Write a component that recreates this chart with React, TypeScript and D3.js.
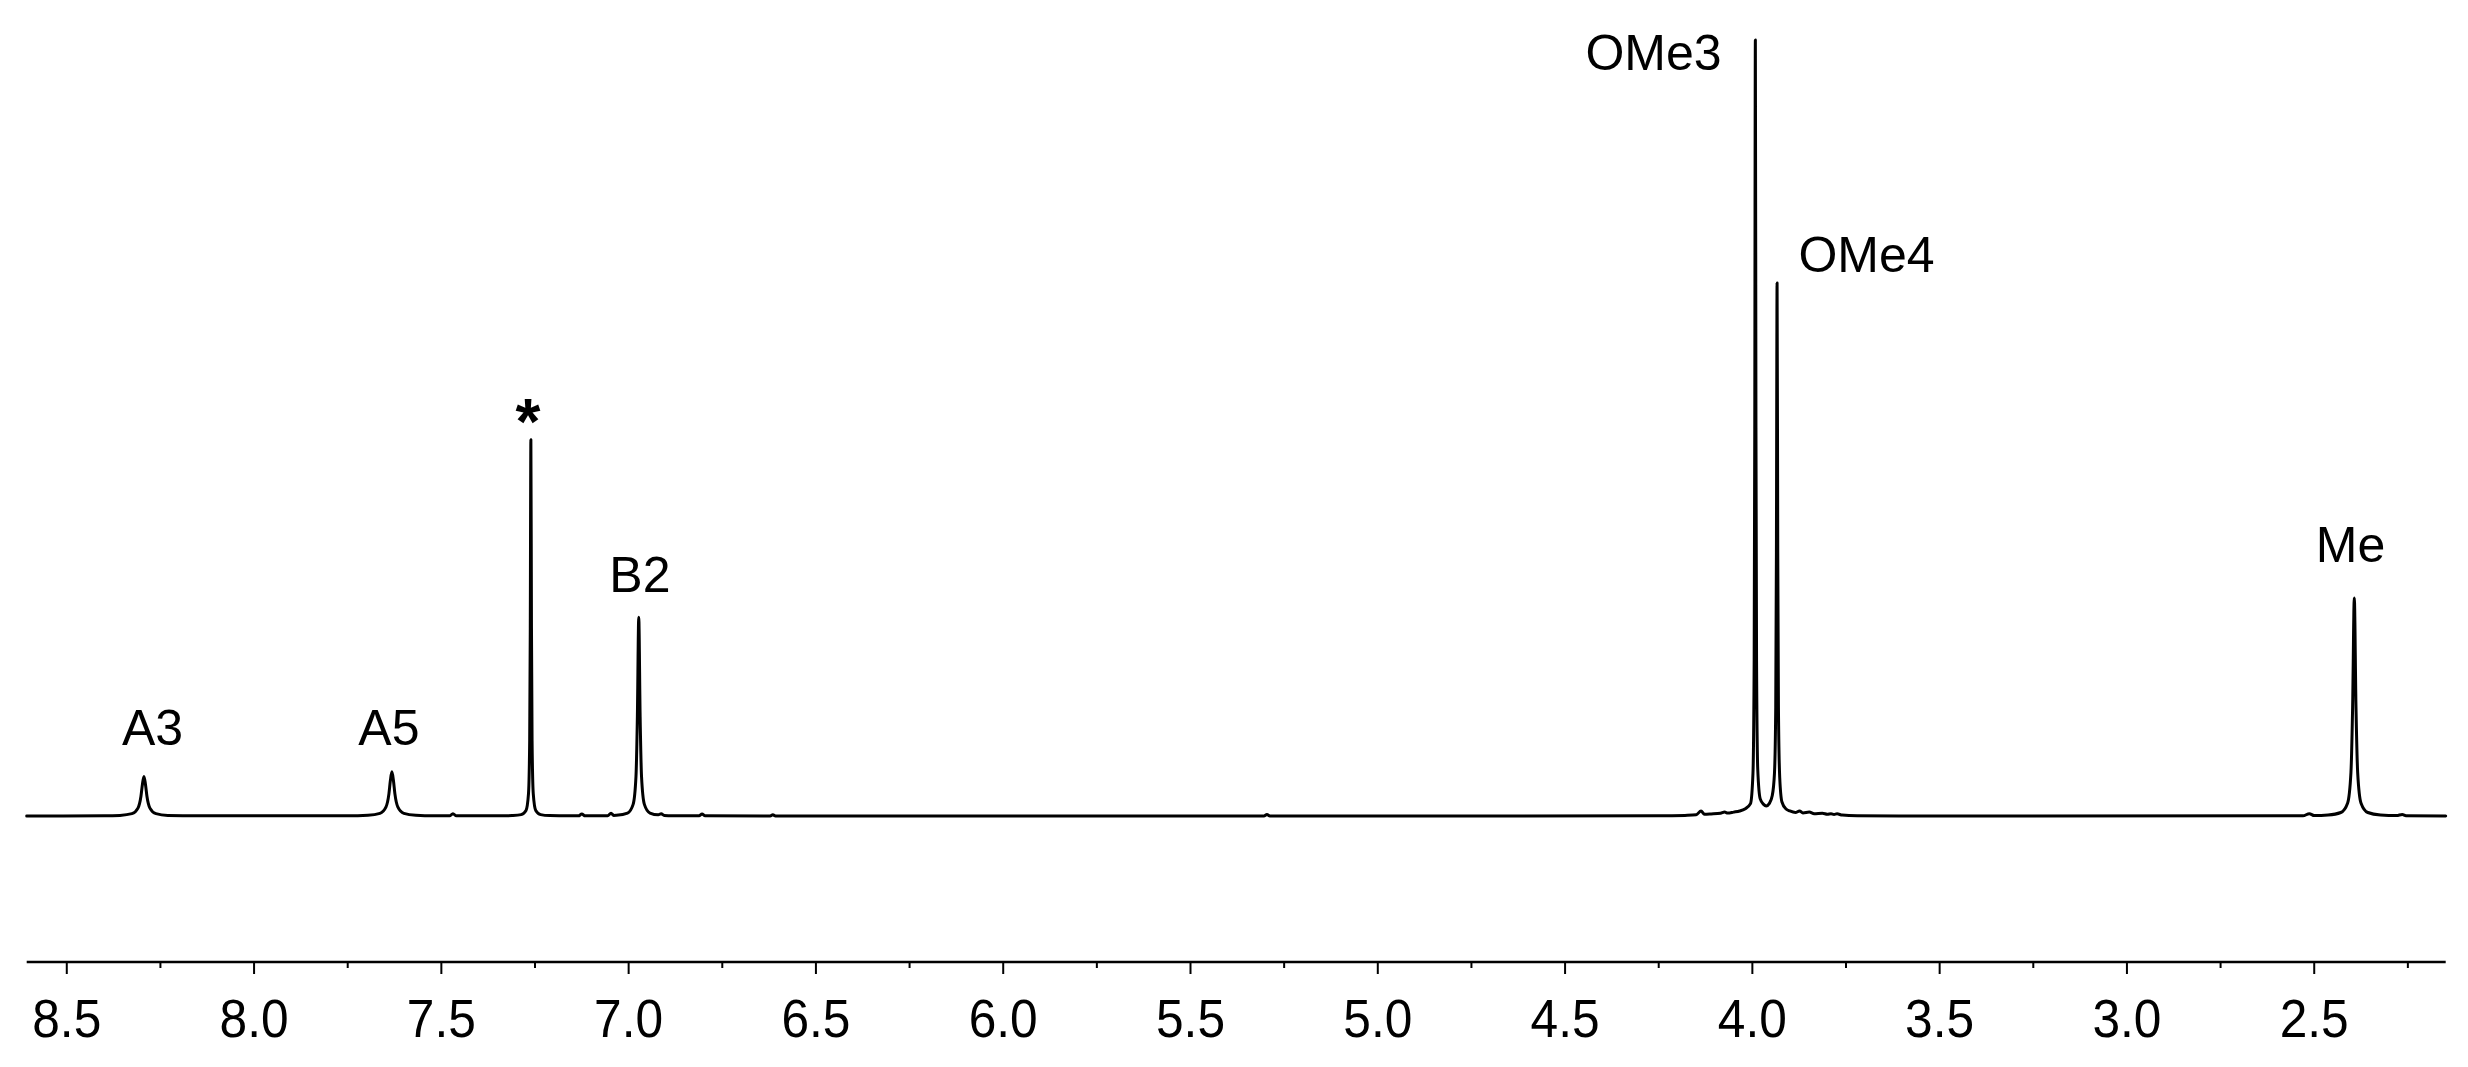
import React, { useMemo } from 'react';
import * as d3 from 'd3';

const WIDTH = 2468;
const HEIGHT = 1067;

// chemical shift window (ppm), drawn left to right
const ppmRange = [8.607, 2.149];
// relative intensity, tallest line (OMe3) = 100
const intensityRange = [0, 100];

const majorTicks = [8.5, 8.0, 7.5, 7.0, 6.5, 6.0, 5.5, 5.0, 4.5, 4.0, 3.5, 3.0, 2.5];
const minorTicks = [8.25, 7.75, 7.25, 6.75, 6.25, 5.75, 5.25, 4.75, 4.25, 3.75, 3.25, 2.75, 2.25];

// peak assignments (text placed in data units)
const peakLabels = ['A3', 'A5', '*', 'B2', 'OMe3', 'OMe4', 'Me'];
const labelPpm = [8.271, 7.64, 7.269, 6.97, 4.082, 3.877, 2.403];
const labelLevel = [9.15, 9.15, 48.0, 28.9, 96.1, 70.1, 32.7];
const labelAnchor = ['middle', 'middle', 'middle', 'middle', 'end', 'start', 'middle'];

// 1H trace: [ppm, relative intensity]
const spectrum: [number, number][] = [
  [8.607, 0], [8.4, 0.02], [8.358, 0.08], [8.326, 0.3], [8.31, 1.02], [8.302, 2.55],
  [8.298, 4.1], [8.294, 5.1], [8.29, 4.1], [8.286, 2.55], [8.278, 1.02], [8.262, 0.3],
  [8.23, 0.08], [8.15, 0.02],
  [7.75, 0.02], [7.696, 0.09], [7.664, 0.34], [7.648, 1.14], [7.64, 2.85], [7.636, 4.6],
  [7.632, 5.7], [7.628, 4.6], [7.624, 2.85], [7.616, 1.14], [7.6, 0.34], [7.568, 0.09],
  [7.52, 0.02], [7.478, 0.02], [7.469, 0.3], [7.46, 0.02],
  [7.33, 0.02], [7.311, 0.05], [7.287, 0.18], [7.274, 0.72], [7.2674, 2.85], [7.2642, 9.7],
  [7.2626, 24.2], [7.261, 48.5], [7.2594, 24.2], [7.2578, 9.7], [7.2546, 2.85], [7.248, 0.72],
  [7.235, 0.18], [7.211, 0.05], [7.16, 0.02],
  [7.134, 0.02], [7.125, 0.25], [7.116, 0.02], [7.056, 0.04], [7.047, 0.35], [7.04, 0.08],
  [7.033, 0.1], [7.003, 0.38], [6.988, 1.5], [6.9804, 5.1], [6.9767, 12.8], [6.973, 25.6],
  [6.9693, 12.8], [6.9656, 5.1], [6.958, 1.5], [6.943, 0.38], [6.921, 0.15], [6.913, 0.3],
  [6.905, 0.08], [6.88, 0.04],
  [6.812, 0.02], [6.804, 0.25], [6.796, 0.02], [6.622, 0.01], [6.615, 0.15], [6.608, 0.01],
  [5.304, 0], [5.296, 0.2], [5.288, 0],
  [4.25, 0.02], [4.18, 0.08], [4.15, 0.15], [4.137, 0.65], [4.128, 0.22], [4.11, 0.26],
  [4.085, 0.35], [4.074, 0.5], [4.066, 0.38], [4.05, 0.5], [4.034, 0.64], [4.02, 0.9],
  [4.005, 1.6], [3.9984, 5.5], [3.9952, 20], [3.9936, 50], [3.992, 100], [3.9904, 50],
  [3.9888, 20], [3.9856, 6], [3.979, 2.2], [3.97, 1.5], [3.963, 1.3], [3.955, 1.6],
  [3.947, 2.6], [3.941, 5.5], [3.9376, 14], [3.9358, 34], [3.934, 68.7], [3.9322, 34],
  [3.9304, 14], [3.927, 5], [3.921, 1.8], [3.91, 0.9], [3.9, 0.65], [3.885, 0.45],
  [3.874, 0.65], [3.865, 0.4], [3.848, 0.5], [3.835, 0.3], [3.813, 0.35], [3.8, 0.22],
  [3.79, 0.3], [3.782, 0.2], [3.774, 0.28], [3.76, 0.12], [3.72, 0.04], [3.6, 0],
  [2.53, 0.02], [2.513, 0.3], [2.5, 0.05], [2.463, 0.12], [2.429, 0.45], [2.411, 1.65],
  [2.402, 5.6], [2.3975, 14], [2.393, 28.1], [2.3885, 14], [2.384, 5.6], [2.375, 1.65],
  [2.357, 0.45], [2.323, 0.12], [2.28, 0.05], [2.265, 0.2], [2.255, 0.03], [2.149, 0],
];

const FONT = '"Liberation Sans", Arial, Helvetica, sans-serif';

export default function App() {
  // plot frame in px
  const left = 26.7;
  const right = 2445.7;
  const baseY = 816;
  const topY = 40;
  const axisY = 962;
  const tickLabelY = 1037;

  const { x, y, tracePath } = useMemo(() => {
    const x = d3.scaleLinear().domain(ppmRange).range([left, right]);
    const y = d3.scaleLinear().domain(intensityRange).range([baseY, topY]);
    const line = d3
      .line<[number, number]>()
      .x(d => x(d[0]))
      .y(d => y(d[1]))
      .curve(d3.curveMonotoneX);
    return { x, y, tracePath: line(spectrum) || '' };
  }, []);

  return (
    <div style={{ position: 'absolute', left: 0, top: 0 }}>
      <svg width={WIDTH} height={HEIGHT} style={{ display: 'block', background: '#fff' }}>
        {/* spectrum */}
        <path
          d={tracePath}
          fill="none"
          stroke="#000"
          strokeWidth={3}
          strokeLinejoin="round"
          strokeLinecap="round"
        />

        {/* peak labels */}
        {peakLabels.map((t, i) => (
          <text
            key={t}
            x={x(labelPpm[i])}
            y={y(labelLevel[i])}
            textAnchor={labelAnchor[i] as any}
            fontFamily={FONT}
            fontSize={t === '*' ? 64 : 50}
            fontWeight={t === '*' ? 'bold' : 'normal'}
            fill="#000"
          >
            {t}
          </text>
        ))}

        {/* ppm axis */}
        <line x1={left} x2={right} y1={axisY} y2={axisY} stroke="#000" strokeWidth={2.4} />
        {minorTicks.map(t => (
          <line key={'m' + t} x1={x(t)} x2={x(t)} y1={axisY} y2={axisY + 6} stroke="#000" strokeWidth={2} />
        ))}
        {majorTicks.map(t => (
          <g key={'M' + t}>
            <line x1={x(t)} x2={x(t)} y1={axisY} y2={axisY + 12} stroke="#000" strokeWidth={2} />
            {/* tick numbers in the original are slightly condensed */}
            <text
              transform={`translate(${x(t)},${tickLabelY}) scale(0.92,1)`}
              textAnchor="middle"
              fontFamily={FONT}
              fontSize={54}
              fill="#000"
            >
              {t.toFixed(1)}
            </text>
          </g>
        ))}
      </svg>
    </div>
  );
}
